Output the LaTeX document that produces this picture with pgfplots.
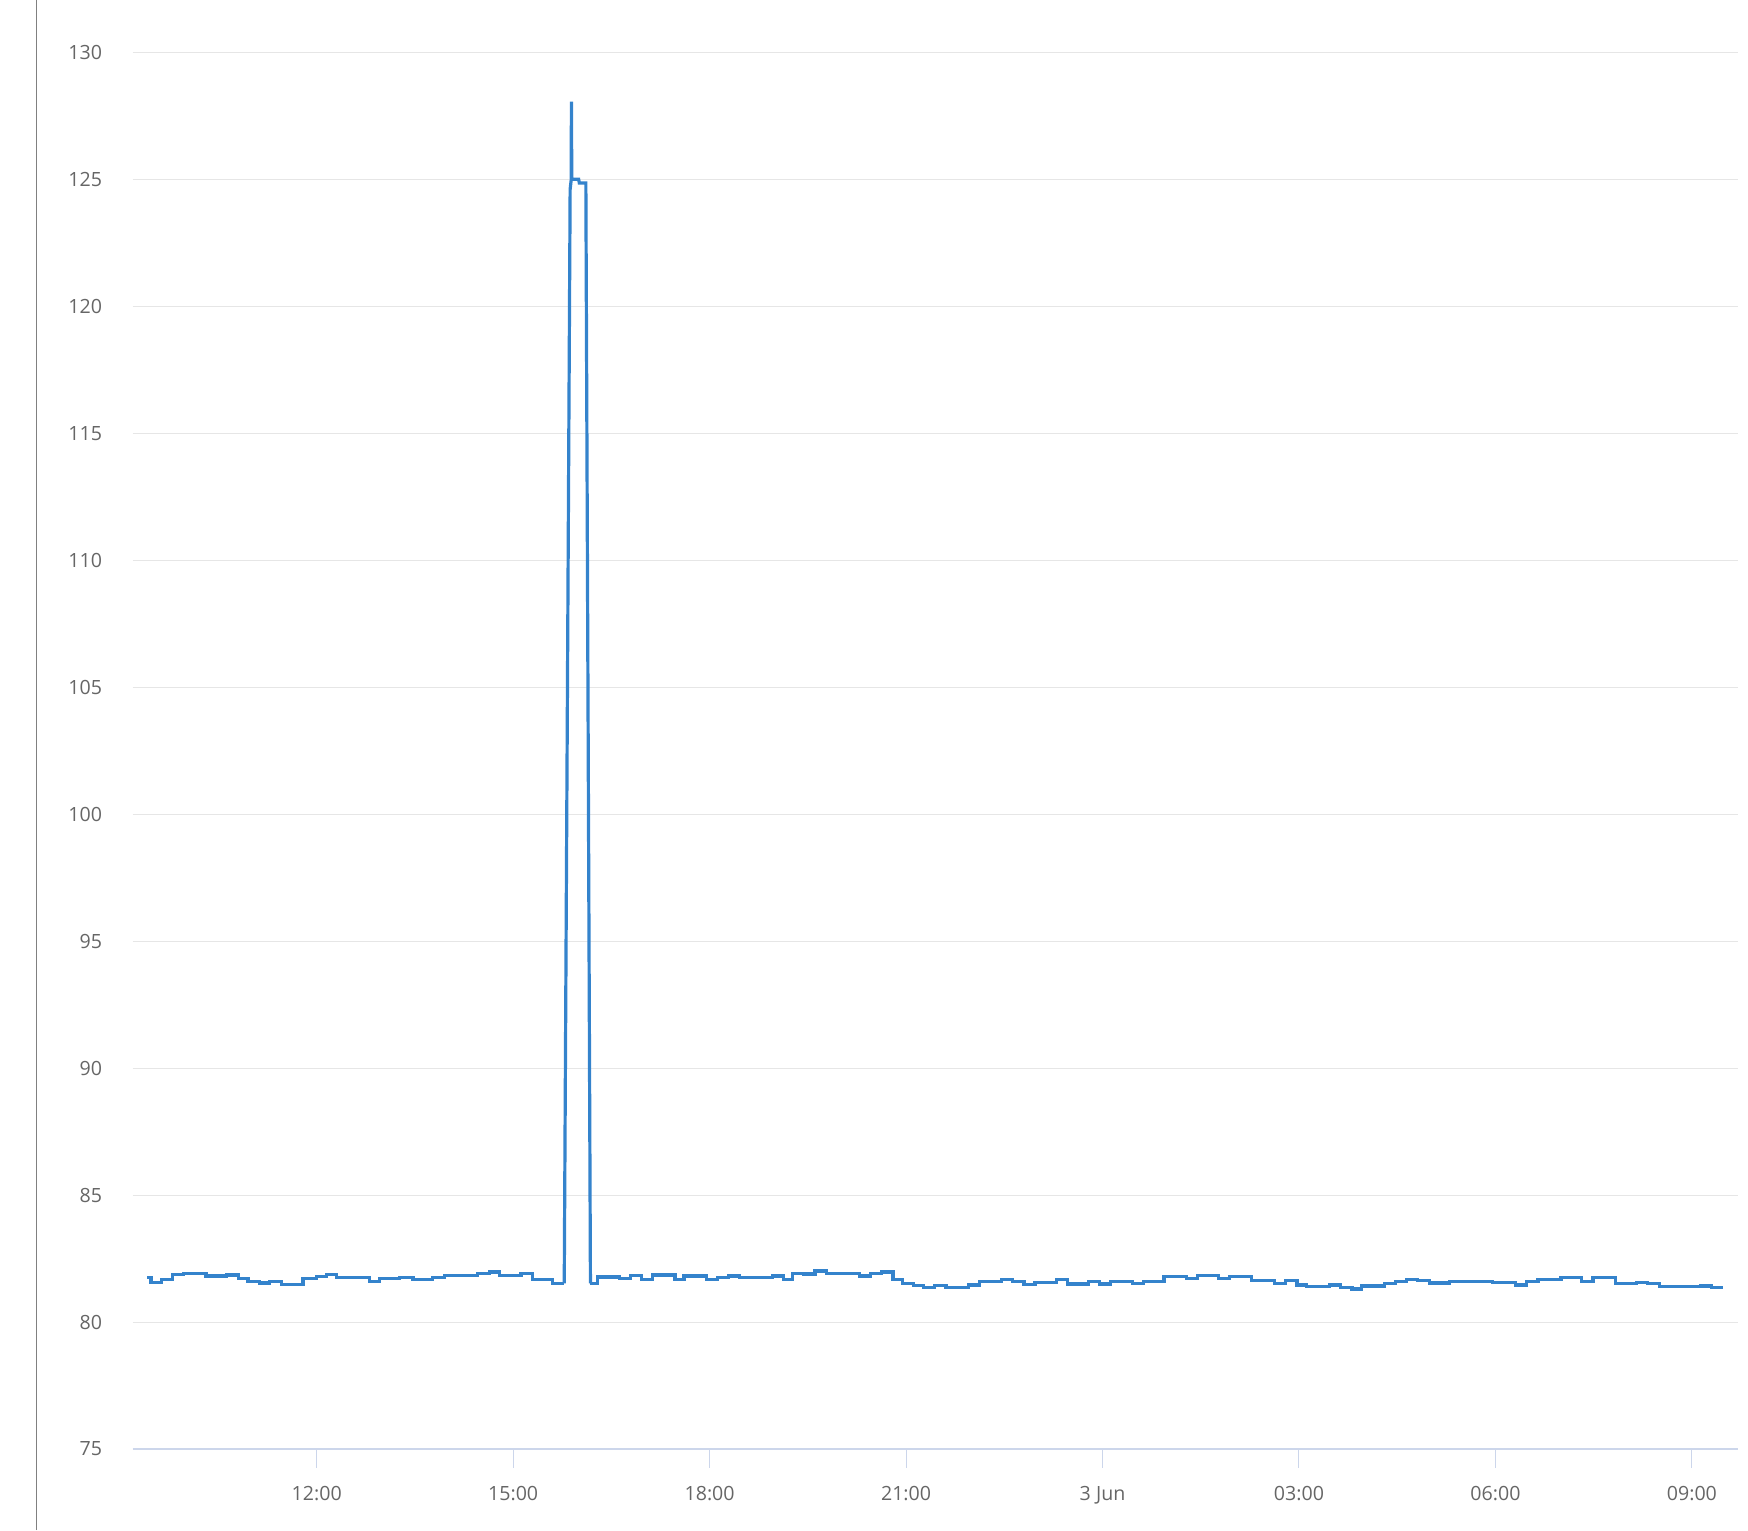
\documentclass[border=0pt]{standalone}
\usepackage{pgfplots}
\pgfplotsset{compat=1.18}
\usepackage{fontspec}
\setmainfont{Open Sans}
\definecolor{linecol}{RGB}{52,131,204}
\definecolor{gridcol}{RGB}{230,230,230}
\definecolor{axcol}{RGB}{204,214,235}
\definecolor{labcol}{RGB}{102,102,102}
\begin{document}
\begin{tikzpicture}
\useasboundingbox (0,0) rectangle (874pt,765pt);
\draw[color=black!50, line width=0.7pt] (18.35pt,0) -- (18.35pt,765pt);
\begin{axis}[
  at={(66.35pt,40.5pt)}, anchor=south west,
  scale only axis,
  width=802.5pt, height=698.4pt,
  xmin=9.19, xmax=33.70,
  ymin=75, ymax=130,
  ytick distance=5,
  xtick={12,15,18,21,24,27,30,33},
  xticklabels={12:00,15:00,18:00,21:00,3 Jun,03:00,06:00,09:00},
  axis x line*=bottom, axis y line*=left,
  x axis line style={draw=axcol, line width=0.7pt, -},
  y axis line style={draw=none},
  ytick style={draw=none},
  xtick style={draw=axcol, line width=0.5pt},
  tick align=outside,
  major tick length=9.3pt,
  ymajorgrids,
  grid style={draw=gridcol, line width=0.5pt},
  tick label style={font=\fontsize{9.8}{12}\selectfont, text=labcol},
  /pgf/number format/assume math mode=true,
  yticklabel style={xshift=-2.5pt},
  xticklabel style={yshift=-6pt},
  clip=false,
]
% baseline before the spike
\addplot[const plot, color=linecol, line width=1.6pt] coordinates {
(9.41,81.76) (9.47,81.57) (9.63,81.66) (9.80,81.86) (9.96,81.92)
(10.31,81.81) (10.62,81.85) (10.80,81.72) (10.95,81.59) (11.13,81.54)
(11.28,81.59) (11.46,81.49) (11.79,81.72) (12.00,81.79) (12.15,81.86)
(12.30,81.76) (12.81,81.59) (12.96,81.72) (13.26,81.76) (13.47,81.68)
(13.77,81.76) (13.95,81.84) (14.46,81.92) (14.64,81.97) (14.79,81.84)
(15.12,81.92) (15.30,81.66) (15.60,81.52) (15.78,81.52)
};
% spike
\addplot[sharp plot, color=linecol, line width=1.6pt] coordinates {
(15.78,81.52) (15.87,124.6) (15.885,124.95) (15.89,128.05) (15.895,125.0)
(16.0,125.0) (16.01,124.85) (16.11,124.85) (16.18,81.52)
};
% baseline after the spike
\addplot[const plot, color=linecol, line width=1.6pt] coordinates {
(16.18,81.52) (16.29,81.77) (16.62,81.70) (16.79,81.84) (16.96,81.68)
(17.13,81.85) (17.47,81.68) (17.61,81.81) (17.95,81.68) (18.12,81.76)
(18.29,81.81) (18.46,81.76) (18.96,81.81) (19.13,81.68) (19.27,81.92)
(19.44,81.89) (19.61,82.01) (19.78,81.92) (20.29,81.81) (20.46,81.92)
(20.63,81.97) (20.80,81.68) (20.94,81.52) (21.11,81.43) (21.27,81.35)
(21.44,81.43) (21.61,81.35) (21.95,81.46) (22.12,81.59) (22.46,81.66)
(22.63,81.59) (22.80,81.49) (22.97,81.57) (23.30,81.66) (23.47,81.50)
(23.78,81.59) (23.95,81.50) (24.12,81.59) (24.46,81.52) (24.63,81.59)
(24.94,81.79) (25.28,81.71) (25.45,81.84) (25.77,81.71) (25.94,81.80)
(26.28,81.62) (26.63,81.52) (26.80,81.62) (26.97,81.46) (27.12,81.39)
(27.46,81.46) (27.64,81.37) (27.81,81.30) (27.95,81.42) (28.30,81.52)
(28.47,81.59) (28.64,81.67) (28.81,81.63) (28.99,81.54) (29.30,81.59)
(29.79,81.60) (29.96,81.57) (30.31,81.46) (30.48,81.59) (30.65,81.68)
(31.00,81.76) (31.32,81.59) (31.49,81.76) (31.83,81.52) (32.15,81.55)
(32.32,81.52) (32.50,81.39) (33.13,81.42) (33.30,81.37) (33.47,81.37)
};
\end{axis}
\end{tikzpicture}
\end{document}
